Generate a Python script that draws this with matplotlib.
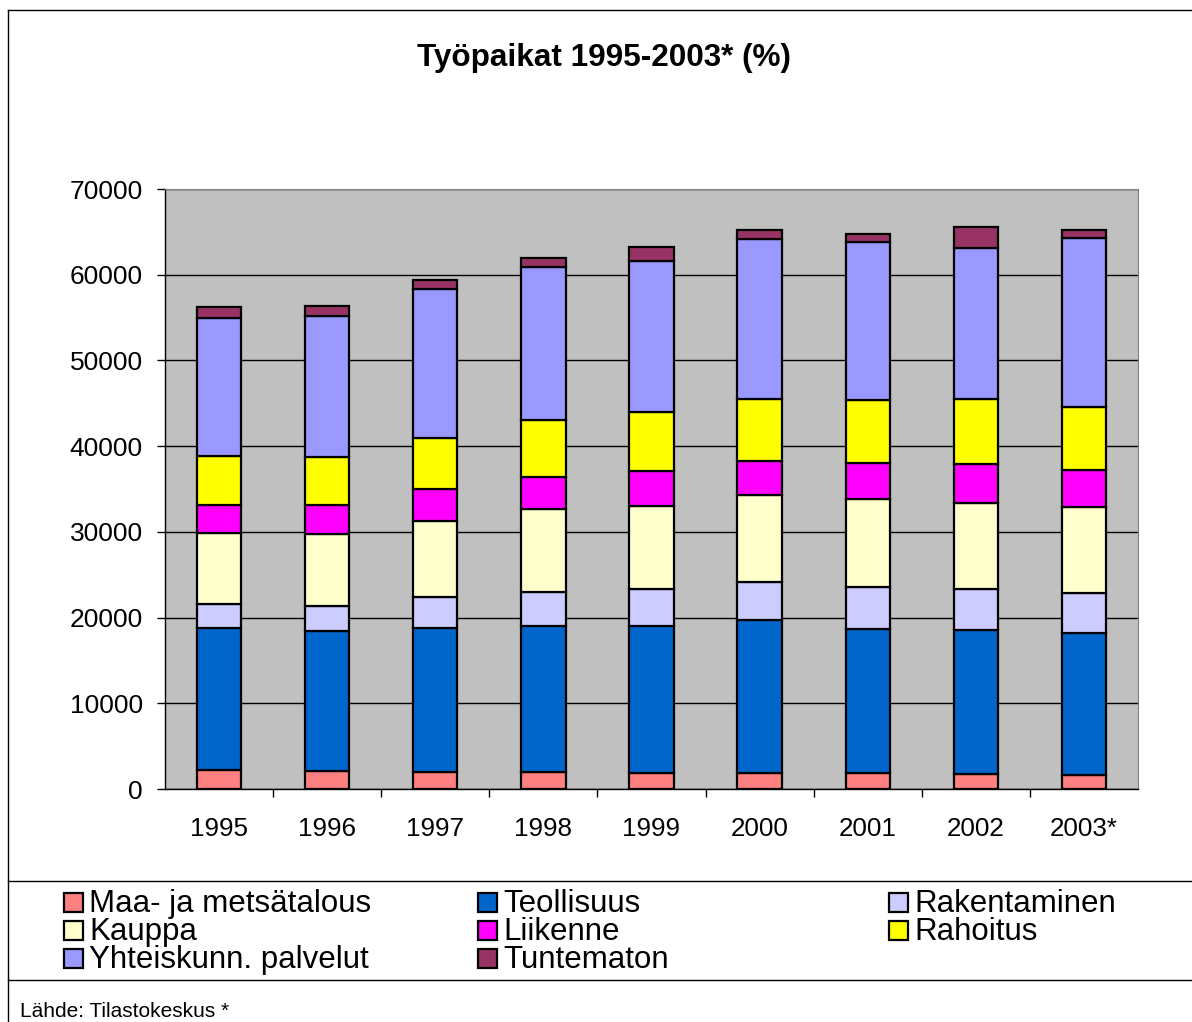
import numpy as np
import matplotlib.pyplot as plt
from matplotlib.patches import Rectangle
from matplotlib.lines import Line2D

plt.rcParams['font.family'] = ['Liberation Sans', 'DejaVu Sans']

# data (number of jobs per sector, stacked)
years = ["1995", "1996", "1997", "1998", "1999", "2000", "2001", "2002", "2003*"]
maa = [2200, 2100, 2000, 1980, 1900, 1870, 1830, 1800, 1670]
teollisuus = [16600, 16300, 16800, 17070, 17150, 17880, 16870, 16700, 16530]
rakentaminen = [2800, 2950, 3550, 3900, 4250, 4450, 4850, 4800, 4650]
kauppa = [8300, 8350, 8950, 9700, 9750, 10100, 10300, 10050, 10000]
liikenne = [3200, 3450, 3650, 3800, 4000, 4000, 4200, 4550, 4350]
rahoitus = [5800, 5600, 6050, 6550, 6900, 7250, 7350, 7550, 7400]
yhteiskunn = [16000, 16450, 17300, 17850, 17700, 18600, 18400, 17700, 19650]
tuntematon = [1300, 1150, 1050, 1150, 1600, 1050, 950, 2400, 950]

names = ["Maa- ja metsätalous", "Teollisuus", "Rakentaminen", "Kauppa",
         "Liikenne", "Rahoitus", "Yhteiskunn. palvelut", "Tuntematon"]
series = [maa, teollisuus, rakentaminen, kauppa, liikenne, rahoitus, yhteiskunn, tuntematon]
colors = ["#FF8080", "#0066CC", "#CCCCFF", "#FFFFCC",
          "#FF00FF", "#FFFF00", "#9999FF", "#993366"]

W, H = 1192, 1022
fig = plt.figure(figsize=(W / 100, H / 100), dpi=100)
ax = fig.add_axes([165 / W, 1 - 789 / H, (1138 - 165) / W, 600 / H])
ax.set_facecolor("#C0C0C0")

x = np.arange(len(years))
bottom = np.zeros(len(years))
for vals, col, name in zip(series, colors, names):
    ax.bar(x, vals, width=0.41, bottom=bottom, color=col, edgecolor="black",
           linewidth=1.6, label=name, zorder=3)
    bottom += np.array(vals)

ax.set_xlim(-0.5, len(years) - 0.5)
ax.set_ylim(0, 70000)
ax.set_yticks(np.arange(0, 70001, 10000))
ax.yaxis.grid(True, color="black", linewidth=1, zorder=0)
ax.set_axisbelow(True)

ax.set_xticks(x)
ax.set_xticklabels(years, fontsize=18.7)
ax.set_xticks(np.arange(0.5, len(years) - 0.5, 1), minor=True)
ax.tick_params(axis="x", which="major", length=0, pad=20)
ax.tick_params(axis="x", which="minor", length=6, width=1, color="black")
ax.tick_params(axis="y", length=6, width=1, pad=10, labelsize=19)

for s in ["top", "right"]:
    ax.spines[s].set_color("#808080")
for s in ["left", "bottom"]:
    ax.spines[s].set_color("black")
    ax.spines[s].set_linewidth(1)

fig.text(604 / W, 1 - 58 / H, "Työpaikat 1995-2003* (%)", ha="center", va="center",
         fontsize=22.7, fontweight="bold")

# frame lines of the chart area
fig.add_artist(Line2D([8 / W, 1], [1 - 10 / H, 1 - 10 / H], color="black", lw=1))
fig.add_artist(Line2D([8 / W, 8 / W], [0, 1 - 10 / H], color="black", lw=1))
fig.add_artist(Line2D([8 / W, 1], [1 - 881 / H, 1 - 881 / H], color="black", lw=1))
fig.add_artist(Line2D([8 / W, 1], [1 - 980 / H, 1 - 980 / H], color="black", lw=1))

# legend laid out row by row, like the original
col_x = [64, 478, 889]
row_y = [903, 931, 959]
for i, (name, col) in enumerate(zip(names, colors)):
    cx = col_x[i % 3]
    cy = row_y[i // 3]
    fig.add_artist(Rectangle((cx / W, 1 - (cy + 9) / H), 19 / W, 19 / H,
                             facecolor=col, edgecolor="black", lw=1.6,
                             transform=fig.transFigure))
    fig.text((cx + 25) / W, 1 - (cy + 1) / H, name, ha="left", va="center", fontsize=22.5)

fig.text(20 / W, 1 - 1011 / H, "Lähde: Tilastokeskus *", ha="left", va="center",
         fontsize=15)

fig.savefig("out.png", dpi=100)
